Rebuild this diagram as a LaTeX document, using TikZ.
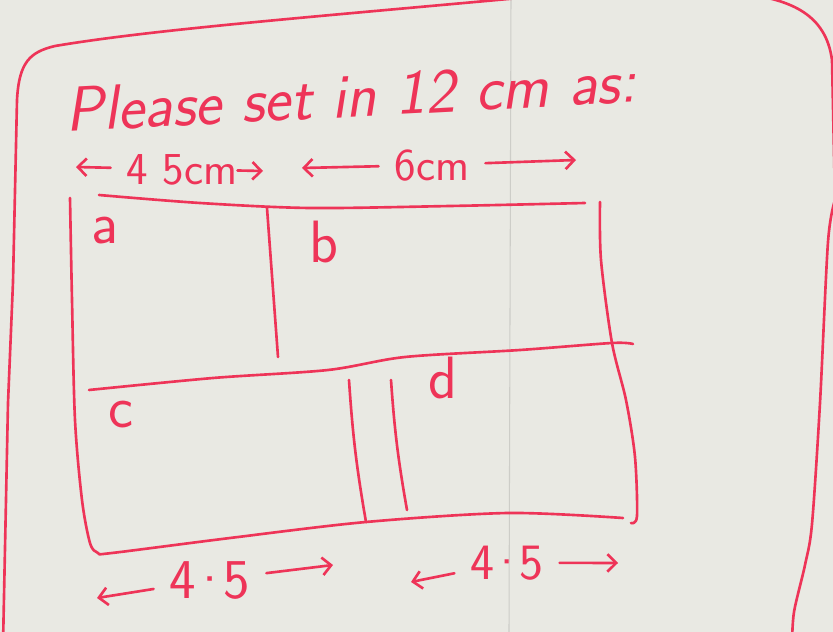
\documentclass[tikz,border=0pt]{standalone}
\usepackage{fontspec}
\usetikzlibrary{arrows.meta}
\definecolor{ink}{RGB}{238,52,88}
\definecolor{paper}{RGB}{233,233,227}
\definecolor{fold}{RGB}{205,205,200}
\newcommand{\hdot}{\kern-0.12em·\kern-0.12em}
\tikzset{pen/.style={color=ink, line width=1.5pt, line cap=round, line join=round},
    dimarrow/.style={pen, -{Straight Barb[length=5pt,width=10pt]}},
    hand/.style={color=ink, inner ysep=0pt, inner xsep=9pt, font=\sffamily}}

\begin{document}
\begin{tikzpicture}[x=0.02cm, y=-0.02cm]
    \fill[paper] (0,0) rectangle (833,632);
    \useasboundingbox (0,0) rectangle (833,632);
    \begin{scope}
        \clip (0,0) rectangle (833,632);
        \draw[fold, line width=0.6pt] (511,0) -- (509,632);
        % outer frame
        \draw[pen] (3,645) -- (8,403) -- (13,282) -- (17,100) .. controls (19,62) and (30,52) .. (55,46) .. controls (150,30) and (300,18) .. (530,-3);
        \draw[pen] (745,-6) .. controls (792,0) and (826,15) .. (832,60) -- (835,200) plot[smooth] coordinates {(835,200) (828,242) (820,403) (812,524) (805,565) (794,612) (792,645)};
        % inner box
        \draw[pen] plot[smooth] coordinates {(99,195) (200,203) (310,208) (450,206) (585,203)};
        \draw[pen] plot[smooth, tension=0.5] coordinates {(70,198) (72,300) (75,420) (82,500) (90,543) (98,553) (112,553) (230,538) (366,522) (508,513) (623,518)};
        \draw[pen] plot[smooth] coordinates {(600,202) (601,260) (612,343) (626,400) (635,457) (637,516) (631,523)};
        \draw[pen] plot[smooth] coordinates {(89,390) (213,378) (328,370) (405,357) (520,350) (612,343) (633,344)};
        \draw[pen] (267,208) -- (278,357); \draw[pen] (349,380) to[bend right=3] (366,522); \draw[pen] (391,380) to[bend right=3] (407,510);
    \end{scope}
    % texts
    \node[hand, inner xsep=0pt, anchor=base west, rotate=3, font=\sffamily\slshape\fontsize{36}{42}\selectfont] (title) at (66,132) {Please set in 12 cm as:};
    \node[hand, anchor=base, font=\sffamily\fontsize{26}{30}\selectfont] (w45) at (182,184) {4 5cm};
    \node[hand, anchor=base, font=\sffamily\fontsize{26}{30}\selectfont] (w6) at (432,180) {6cm};
    \node[hand, anchor=base, font=\sffamily\fontsize{32}{36}\selectfont] (b45l) at (210,598) {4\hdot5};
    \node[hand, anchor=base, font=\sffamily\fontsize{29}{33}\selectfont] (b45r) at (507,579) {4\hdot5};
    \node[hand, inner xsep=0pt, anchor=base west, font=\sffamily\fontsize{34}{40}\selectfont] (la) at (91,243) {a};
    \node[hand, inner xsep=0pt, anchor=base west, font=\sffamily\fontsize{34}{40}\selectfont] (lb) at (309,262) {b};
    \node[hand, inner xsep=0pt, anchor=base west, font=\sffamily\fontsize{34}{40}\selectfont] (lc) at (108,427) {c};
    \node[hand, inner xsep=0pt, anchor=base west, font=\sffamily\fontsize{34}{40}\selectfont] (ld) at (428,398) {d};
    % dimension arrows
    \coordinate (w45l) at (76,167); \coordinate (w45r) at (263,171);
    \coordinate (w6l) at (302,168); \coordinate (w6r) at (576,160);
    \coordinate (b45ll) at (97,598); \coordinate (b45lr) at (333,565);
    \coordinate (b45rl) at (411,582); \coordinate (b45rr) at (618,563);
    \draw[dimarrow] (w45) -- (w45l); \draw[dimarrow, shorten <=-9pt] (w45) -- (w45r);
    \draw[dimarrow] (w6) -- (w6l); \draw[dimarrow] (w6) -- (w6r);
    \draw[dimarrow] (b45l) -- (b45ll); \draw[dimarrow] (b45l) -- (b45lr);
    \draw[dimarrow] (b45r) -- (b45rl); \draw[dimarrow] (b45r) -- (b45rr);
\end{tikzpicture}
\end{document}
